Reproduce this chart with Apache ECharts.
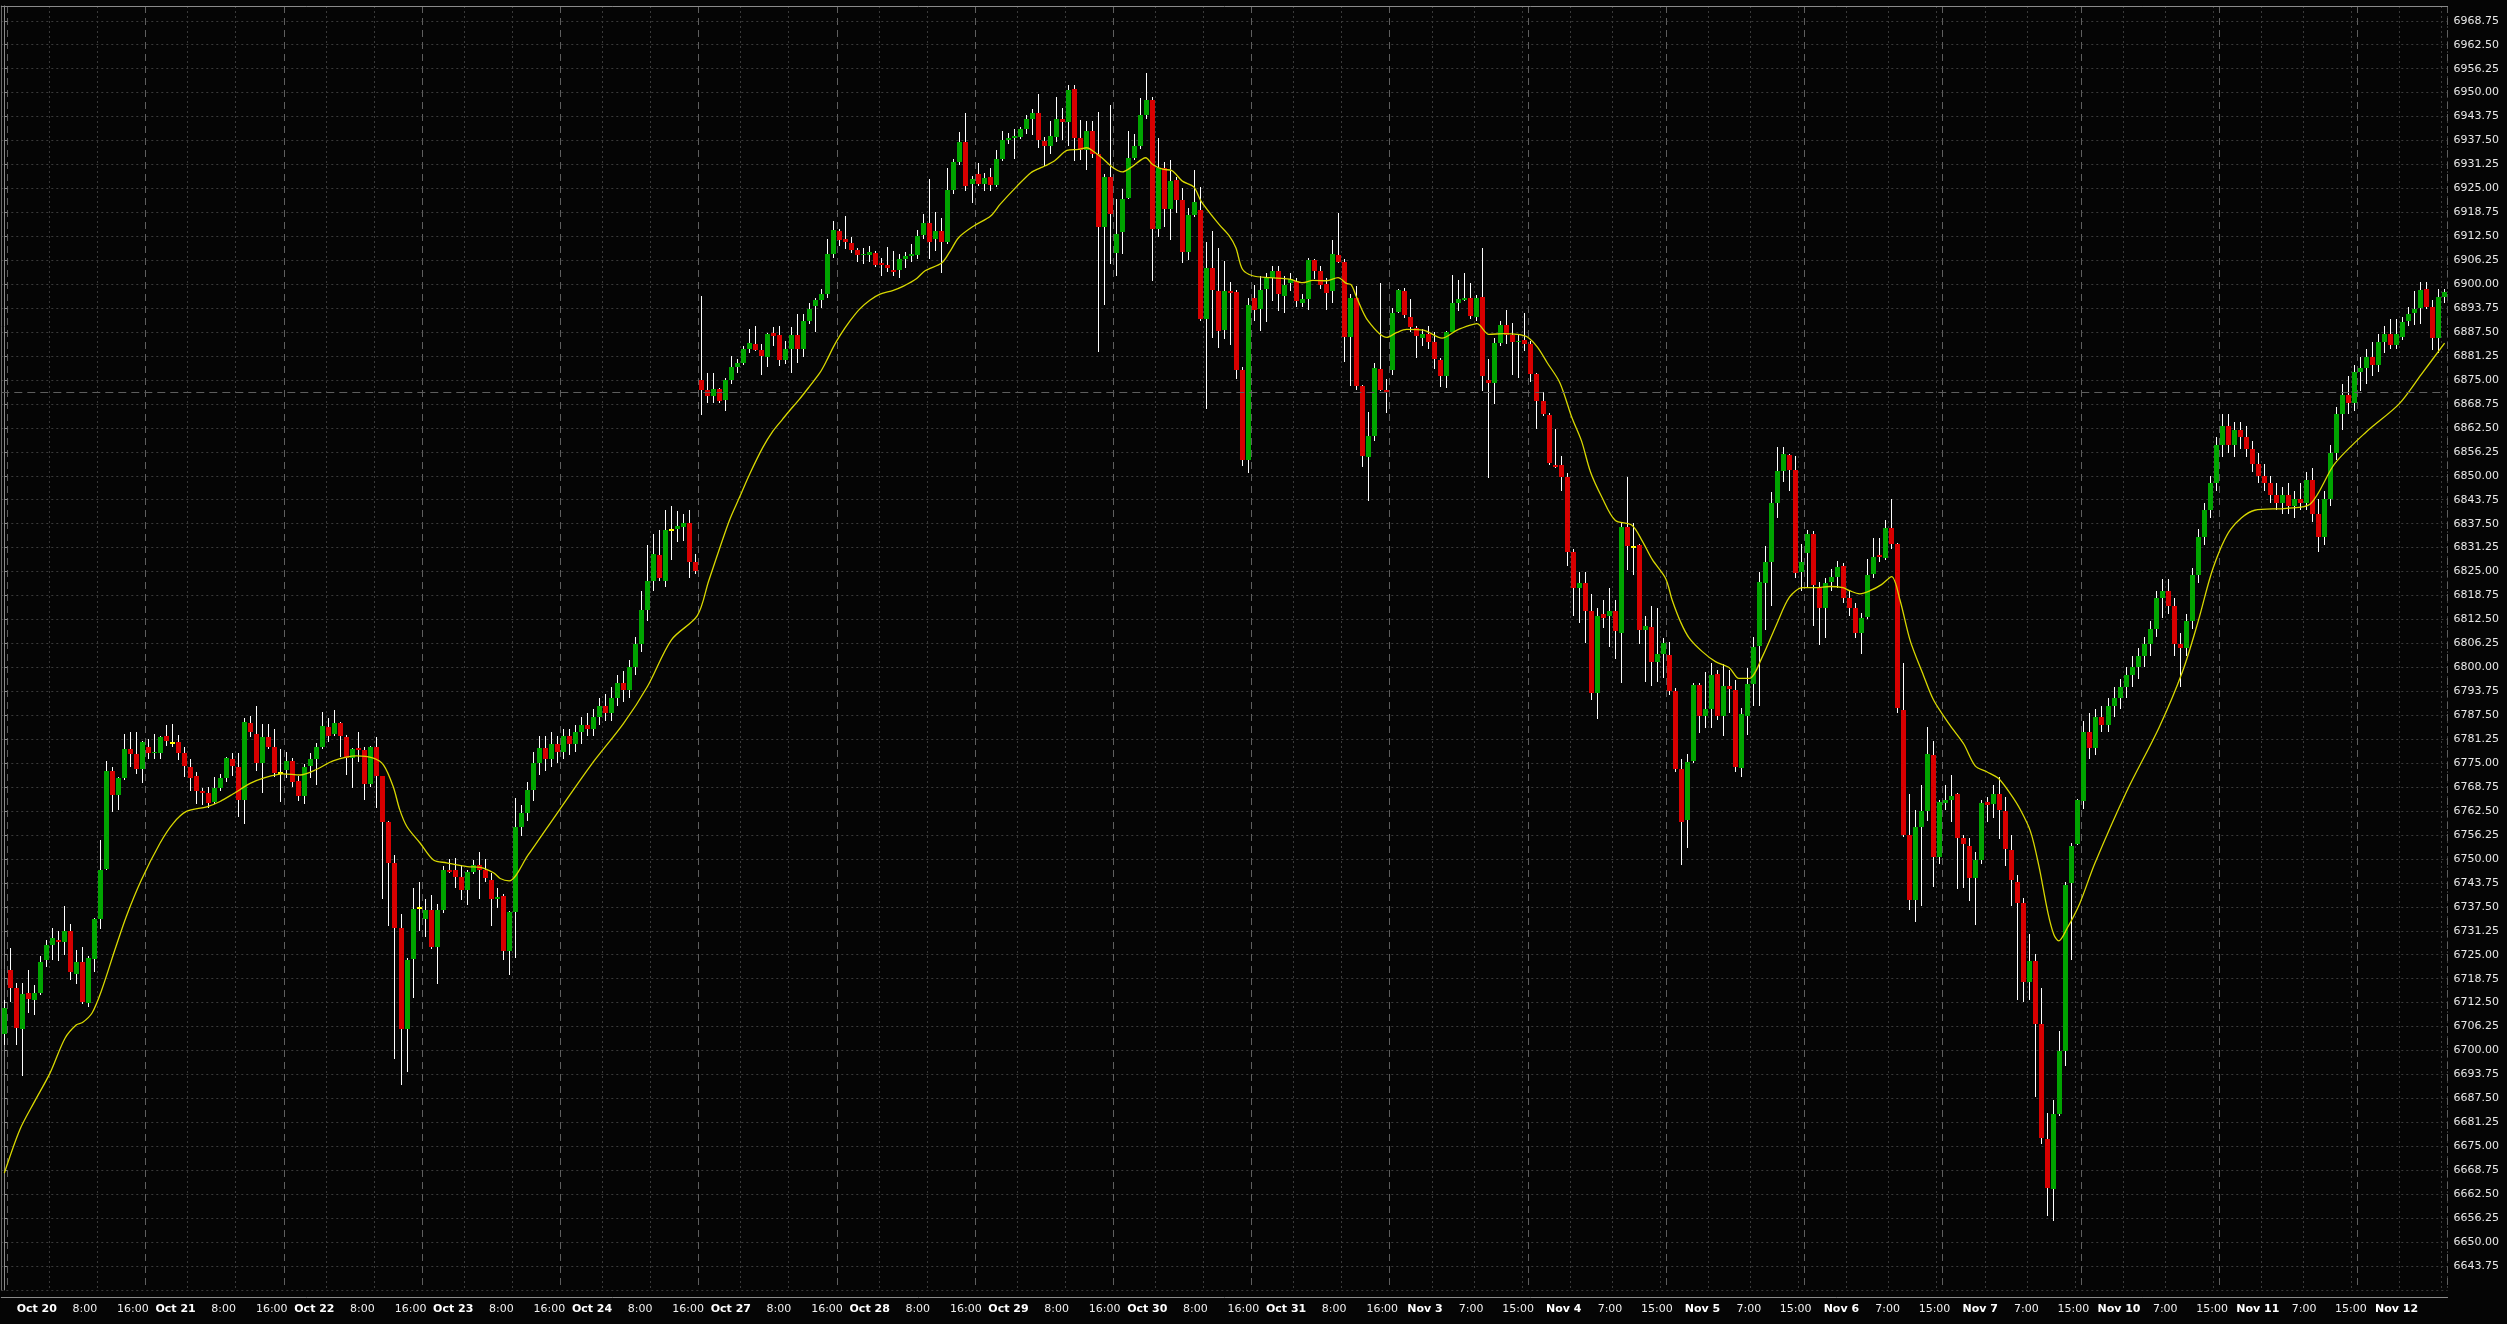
<!DOCTYPE html>
<html>
<head>
<meta charset="utf-8">
<script src="https://cdn.jsdelivr.net/npm/echarts@6/dist/echarts.min.js"></script>
<style>
html,body{margin:0;padding:0;background:#050505;}
#chart{width:2507px;height:1324px;}
</style>
</head>
<body>
<div id="chart"></div>
<script>
// ---------------- DATA (hourly bars) ----------------
const dayNames = ['Oct 20','Oct 21','Oct 22','Oct 23','Oct 24','Oct 27','Oct 28','Oct 29','Oct 30','Oct 31',
                  'Nov 3','Nov 4','Nov 5','Nov 6','Nov 7','Nov 10','Nov 11','Nov 12'];
const hourLabelsOct = ['8:00','16:00'];
const hourLabelsNov = ['7:00','15:00'];
const firstDayBar = 1;      // bar 0 is the last bar of the previous session
const barsPerDay = 23;
const novFirstDay = 10;     // index of 'Nov 3'

const opens = [
6704.3,
6721.0,6716.4,6705.6,6715.0,6713.3,6715.0,6723.5,6727.5,6728.9,6728.3,6731.3,6720.1,6723.0,6712.5,6723.8,6734.3,6747.5,6772.9,6766.7,6771.2,6778.8,6777.3,6773.6,
6779.1,6777.6,6777.7,6782.1,6780.3,6780.6,6777.7,6774.1,6771.7,6767.8,6767.3,6764.8,6768.5,6771.2,6776.1,6774.1,6765.4,6785.6,6782.5,6775.0,6781.9,6779.3,6772.3,
6773.3,6775.6,6770.3,6766.3,6774.3,6776.0,6779.3,6784.4,6782.5,6785.6,6781.9,6776.3,6778.9,6778.3,6769.5,6779.3,6771.6,6759.6,6748.9,6731.9,6705.5,6723.8,6737.1,
6734.3,6736.7,6727.1,6736.8,6747.1,6747.1,6745.4,6741.9,6746.5,6748.4,6747.0,6744.6,6739.5,6740.3,6725.9,6736.2,6758.4,6762,6768,6775,6779,6776,6780,
6778,6782,6780,6783,6785,6784,6787,6790,6788,6792,6796,6794,6800,6806,6815,6822.5,6829.2,6822.6,6835.9,6836.0,6836.6,6837.8,6827.5,
6875.0,6872.4,6870.9,6872.6,6869.9,6875.0,6878.4,6879.4,6883.1,6884.3,6882.8,6881.1,6887.3,6886.8,6880.1,6883.1,6886.8,6883.2,6890.3,6894.2,6895.8,6897.5,6907.9,
6913.9,6911.7,6910.8,6908.9,6907.5,6907.7,6908.2,6905.4,6905.0,6903.7,6903.7,6906.6,6907.3,6907.7,6912.9,6915.9,6911.9,6913.9,6910.9,6924.5,6931.8,6937.1,6926.1,
6928.7,6926.1,6928.0,6926.0,6932.6,6937.7,6938.2,6938.4,6940.5,6943.1,6944.8,6937.4,6936.1,6938.4,6943.0,6942.2,6950.9,6938.2,6935.0,6940.0,6933.9,6914.8,6928.0,
6908.2,6913.5,6922.5,6932.9,6936.1,6944.2,6948.1,6914.5,6930.2,6919.7,6927.2,6921.9,6908.4,6918.1,6919.4,6891.0,6904.2,6898.2,6888.1,6898.2,6898.0,6877.6,6854.2,
6896.3,6893.6,6898.8,6901.5,6903.5,6896.8,6900.2,6900.7,6895.2,6896.1,6906.2,6903.5,6900.1,6898.1,6907.6,6905.8,6886.3,6896.3,6873.4,6855.0,6860.4,6877.9,6872.4,
6877.6,6892.8,6898.2,6891.5,6888.5,6886.0,6887.0,6884.8,6880.2,6876.1,6887.6,6895.2,6895.8,6896.3,6891.5,6896.7,6875.0,6874.3,6884.7,6889.4,6886.8,6884.8,6885.4,
6884.3,6876.5,6869.5,6865.9,6852.8,6852.9,6849.7,6830.1,6820.8,6821.9,6814.6,6793.4,6813.8,6813.3,6814.6,6809.0,6836.6,6831.4,6831.9,6809.7,6810.5,6801.5,6803.6,
6803.2,6793.7,6773.6,6760.1,6775.6,6795.5,6787.3,6789.0,6798.3,6787.2,6795.2,6794.0,6773.8,6787.3,6795.7,6805.6,6822.1,6827.6,6842.8,6851.3,6855.4,6851.5,6824.9,
6829.8,6834.7,6820.8,6815.6,6822.4,6823.6,6826.5,6818.0,6815.4,6808.9,6813.1,6824.4,6829.3,6828.6,6836.3,6832.2,6788.8,6756.3,6739.2,6758.4,6762.4,6777.0,6750.6,
6764.5,6765.3,6766.9,6755.5,6753.5,6744.9,6749.8,6764.8,6764.3,6766.9,6762.4,6752.3,6744.1,6738.4,6718.0,6723.4,6707.0,6676.8,6663.8,6683.4,6700.0,6743.6,6753.9,
6765,6783,6779,6787,6785,6790,6792,6795,6798,6800,6803,6806,6810,6818,6820,6816,6806,6805,6812,6824,6834,6841,6848,
6858,6863,6858,6862,6860,6857,6853,6850,6848,6845,6843,6845,6842,6844,6843,6849,6840,6834,6844,6856,6866,6871,6869,
6877,6878,6881,6879,6885,6887,6884,6886.1,6890.5,6892.6,6893.7,6898.7,6894.0,6885.9,6896.6
];
const highs = [
6713.3,
6726.8,6717.6,6717.6,6721.0,6717.1,6724.6,6728.9,6731.9,6731.3,6737.6,6732.9,6726.2,6727.0,6724.6,6734.6,6754.9,6775.6,6774.1,6771.3,6782.5,6783.2,6783.2,6780.8,
6781.2,6782.5,6782.1,6784.9,6785.2,6782.4,6779.2,6776.2,6772.6,6768.5,6768.7,6771.5,6772.2,6776.7,6777.6,6777.6,6786.7,6787.3,6790.0,6785.1,6785.1,6783.9,6778.7,
6778.0,6776.3,6771.7,6774.8,6777.6,6780.3,6788.4,6786.7,6788.9,6785.7,6782.4,6778.9,6783.0,6779.3,6779.5,6781.9,6771.7,6759.8,6750.9,6735.6,6724.1,6742.3,6744.1,
6739.6,6740.7,6738.3,6748.1,6750.0,6750.3,6748.4,6747.1,6749.8,6751.8,6750.0,6746.2,6742.5,6740.8,6736.5,6765.9,6764,6770,6778,6782,6782,6783,6782,
6784,6784,6785,6787,6788,6789,6792,6793,6795,6798,6799,6802,6808,6820,6832,6834.9,6835.9,6841.1,6842.0,6840.8,6840.0,6841.1,6829.5,
6896.9,6876.8,6876.8,6873.0,6875.4,6881.3,6880.4,6883.9,6888.2,6889.1,6884.3,6887.3,6888.7,6889.0,6885.2,6888.7,6892.1,6892.1,6895.0,6896.3,6898.7,6911.7,6916.5,
6914.3,6917.8,6912.2,6909.5,6909.5,6910.0,6908.7,6906.9,6909.7,6908.7,6908.0,6908.4,6910.6,6914.1,6918.4,6927.5,6918.9,6917.4,6930.2,6932.6,6939.7,6944.8,6928.3,
6931.6,6929.0,6930.4,6935.0,6940.0,6939.5,6940.4,6940.9,6944.2,6945.6,6949.7,6938.3,6942.6,6948.9,6946.1,6952.0,6952.0,6942.8,6942.6,6942.6,6945.0,6928.7,6946.8,
6922.2,6924.8,6940.0,6939.3,6948.7,6955.1,6948.9,6938.1,6931.9,6932.4,6928.0,6925.2,6920.0,6929.8,6925.4,6910.9,6913.9,6909.4,6906.1,6900.6,6898.5,6878.4,6896.3,
6899.8,6902.1,6902.8,6904.8,6904.8,6902.1,6902.8,6901.5,6897.4,6906.9,6906.5,6904.8,6901.7,6911.5,6918.7,6906.5,6897.4,6899.5,6873.6,6866.7,6879.5,6900.2,6875.2,
6893.9,6898.8,6899.1,6896.2,6889.0,6888.2,6889.1,6887.4,6880.8,6887.8,6902.4,6901.1,6902.9,6900.2,6897.1,6909.4,6880.4,6886.0,6890.4,6893.3,6889.9,6886.9,6892.4,
6885.2,6876.8,6871.9,6866.5,6862.1,6855.1,6850.6,6830.9,6824.9,6824.9,6819.2,6815.6,6817.5,6820.8,6817.5,6837.9,6849.7,6837.6,6832.2,6813.4,6815.9,6815.4,6807.7,
6806.6,6794.7,6776.2,6777.5,6795.8,6796.0,6798.8,6801.2,6799.2,6800.9,6799.2,6796.6,6789.3,6799.9,6808.0,6824.9,6831.7,6845.7,6857.5,6857.5,6855.7,6855.1,6832.2,
6835.8,6835.5,6822.4,6823.2,6825.7,6827.8,6827.3,6820.0,6816.7,6814.2,6828.4,6833.8,6833.8,6838.4,6843.9,6832.5,6801.2,6766.9,6762.8,6769.4,6784.4,6780.8,6765.3,
6769.4,6771.8,6767.3,6756.3,6755.5,6751.9,6765.3,6766.1,6769.4,6771.3,6766.1,6756.3,6745.7,6739.7,6730.5,6725.3,6716.3,6683.7,6687.0,6705.2,6744.1,6754.2,6765.6,
6786,6788,6789,6790,6792,6795,6797,6800,6803,6805,6808,6812,6820,6823,6823,6818,6809,6814,6826,6836,6843,6850,6860,
6866,6866,6864,6864,6863,6859,6856,6853,6850,6848,6847,6848,6846,6848,6851,6852,6844,6846,6858,6868,6874,6876,6879,
6881,6883,6885,6887,6889,6891,6891,6891.5,6894.0,6898.2,6900.6,6900.6,6895.9,6898.7,6898.7
];
const lows = [
6701.4,
6712.7,6701.4,6693.4,6709.9,6709.3,6714.6,6721.9,6723.5,6723.3,6724.8,6718.3,6717.4,6712.2,6711.3,6720.6,6731.6,6747.1,6762.2,6762.7,6770.5,6774.1,6772.2,6769.7,
6776.0,6776.0,6776.0,6779.4,6779.2,6775.9,6771.3,6767.8,6764.4,6764.1,6763.3,6764.4,6767.6,6770.0,6771.6,6760.9,6759.1,6781.9,6773.0,6767.1,6778.7,6771.4,6764.8,
6771.1,6768.9,6765.1,6764.4,6771.2,6769.3,6778.7,6780.4,6782.1,6776.7,6771.9,6768.5,6775.4,6765.4,6768.9,6763.3,6739.6,6732.4,6697.9,6690.9,6694.3,6713.6,6731.1,
6729.5,6726.5,6717.4,6736.0,6746.3,6742.3,6739.4,6737.9,6746.1,6739.5,6744.1,6732.6,6737.1,6723.5,6719.7,6724.1,6756,6760,6765,6772,6773,6774,6775,
6776,6777,6778,6780,6782,6782,6785,6786,6786,6790,6791,6792,6798,6804,6812,6820,6822.6,6821.0,6828.0,6832.6,6833.0,6823.4,6824.3,
6865.8,6869.1,6869.1,6869.1,6867.0,6874.0,6876.7,6878.9,6882.1,6882.5,6876.4,6878.4,6883.9,6878.6,6879.1,6876.8,6879.5,6881.1,6889.7,6887.6,6893.7,6896.3,6906.9,
6910.0,6909.1,6908.2,6905.9,6905.2,6905.9,6904.5,6902.2,6903.3,6902.2,6901.5,6904.3,6905.9,6906.7,6911.7,6906.7,6908.7,6903.0,6910.6,6923.6,6931.0,6924.2,6921.3,
6925.6,6924.2,6924.3,6925.4,6932.2,6936.5,6932.8,6938.0,6939.3,6939.0,6935.6,6930.9,6934.1,6937.0,6937.6,6936.1,6932.2,6932.4,6929.9,6933.0,6882.4,6894.6,6905.2,
6902.2,6908.0,6922.2,6932.5,6935.2,6943.0,6900.7,6912.2,6914.8,6911.6,6918.7,6905.4,6906.3,6917.5,6890.4,6867.5,6885.9,6883.3,6885.7,6884.1,6875.2,6852.5,6850.7,
6890.5,6887.8,6890.0,6895.5,6893.0,6892.4,6898.2,6894.1,6894.1,6893.3,6901.3,6898.7,6893.3,6895.2,6905.5,6879.7,6873.4,6872.5,6852.4,6843.3,6859.1,6872.1,6866.5,
6876.2,6892.6,6891.3,6887.6,6880.8,6883.9,6883.0,6877.8,6873.2,6873.0,6887.4,6893.0,6895.5,6890.9,6890.4,6872.1,6849.3,6868.7,6883.9,6884.3,6876.3,6875.4,6882.6,
6874.6,6862.1,6865.6,6852.8,6852.0,6846.1,6826.5,6813.5,6811.5,6806.4,6791.4,6786.5,6810.2,6805.3,6802.3,6795.8,6825.3,6824.0,6806.1,6796.3,6795.2,6796.3,6797.1,
6792.7,6772.6,6748.5,6752.9,6775.1,6782.9,6784.1,6784.1,6786.2,6782.1,6788.1,6772.6,6771.5,6782.4,6789.8,6789.8,6809.7,6815.9,6839.1,6848.5,6846.1,6823.2,6820.0,
6821.1,6810.7,6805.8,6807.7,6820.0,6820.8,6816.7,6813.4,6807.7,6803.6,6812.6,6823.2,6827.6,6828.1,6830.9,6788.0,6755.8,6736.7,6733.5,6737.6,6759.9,6742.8,6748.6,
6762.8,6759.6,6742.1,6742.4,6738.9,6732.7,6748.6,6759.6,6760.7,6755.2,6748.2,6737.6,6713.1,6712.6,6713.1,6687.8,6675.5,6656.8,6655.6,6682.9,6696.0,6723.7,6753.6,
6763,6776,6777,6783,6783,6787,6789,6792,6795,6797,6800,6803,6808,6813,6814,6803,6795,6803,6810,6822,6832,6839,6846,
6855,6856,6855,6857,6855,6851,6848,6846,6843,6841,6840,6840,6839,6841,6841,6838,6830,6832,6842,6854,6862,6866,6867,
6872,6874,6876,6877,6882,6883,6883,6885.4,6889.0,6889.3,6889.7,6893.5,6882.8,6882.1,6895.2
];
const closes = [
6711.1,
6716.3,6706.0,6714.7,6713.5,6715.0,6723.2,6727.5,6729.3,6728.3,6731.3,6720.5,6723.0,6712.7,6724.1,6734.3,6747.1,6772.9,6766.7,6771.2,6778.8,6777.3,6773.4,6780.4,
6777.6,6778.0,6781.9,6780.9,6780.3,6777.7,6774.3,6771.2,6767.8,6767.3,6764.7,6768.5,6771.2,6776.4,6774.2,6765.4,6785.8,6783.0,6775.0,6781.9,6779.3,6772.3,6772.3,
6775.6,6770.0,6766.3,6774.1,6776.0,6779.3,6784.6,6782.2,6785.6,6782.2,6776.3,6778.7,6778.3,6769.5,6779.3,6771.7,6759.6,6748.9,6731.9,6705.5,6723.5,6737.0,6737.1,
6736.7,6727.1,6736.7,6747.1,6746.7,6745.4,6741.9,6746.5,6748.4,6747.0,6745.1,6739.5,6740.1,6725.9,6736.2,6758.4,6762,6768,6775,6779,6776,6780,6778,
6782,6780,6783,6785,6784,6787,6790,6788,6792,6796,6794,6800,6806,6815,6822.5,6829.5,6823.4,6835.9,6835.9,6836.8,6837.8,6827.6,6825.2,
6872.4,6870.9,6872.6,6869.6,6875.0,6878.4,6879.4,6883.1,6884.6,6882.9,6881.3,6886.9,6886.6,6880.3,6883.1,6886.8,6883.1,6890.4,6893.5,6895.9,6897.5,6907.9,6914.2,
6911.6,6911.0,6908.9,6907.5,6907.9,6908.4,6905.1,6905.0,6904.2,6903.3,6906.5,6907.4,6907.9,6912.6,6915.9,6911.1,6913.9,6911.0,6924.6,6931.9,6937.1,6925.6,6927.5,
6926.1,6927.6,6926.0,6932.6,6937.6,6938.2,6938.7,6940.5,6943.1,6944.8,6937.6,6936.1,6938.7,6943.0,6942.2,6950.7,6938.2,6935.0,6940.0,6933.9,6915.0,6928.0,6918.4,
6913.0,6922.2,6932.9,6936.1,6944.2,6948.1,6914.5,6930.2,6919.7,6926.9,6922.0,6908.4,6918.1,6921.5,6891.0,6904.2,6898.4,6887.9,6898.2,6897.8,6877.6,6854.0,6894.6,
6893.3,6898.4,6901.5,6903.5,6897.4,6899.8,6901.3,6895.5,6896.1,6906.2,6903.5,6899.8,6897.8,6907.8,6905.9,6886.3,6896.3,6873.4,6855.2,6860.4,6878.1,6872.4,6871.9,
6892.4,6898.4,6892.0,6888.7,6886.4,6887.0,6884.8,6880.6,6876.1,6887.6,6895.2,6896.1,6896.3,6891.7,6896.3,6876.1,6874.3,6884.7,6889.4,6886.8,6884.9,6885.2,6884.3,
6876.5,6869.5,6866.0,6853.4,6852.3,6849.7,6830.2,6820.8,6821.9,6814.6,6793.4,6813.4,6812.9,6814.6,6809.4,6836.6,6831.7,6831.4,6809.8,6810.7,6801.5,6803.6,6806.4,
6793.7,6773.6,6759.6,6775.4,6795.5,6787.2,6789.0,6797.9,6787.2,6795.2,6794.3,6774.1,6787.7,6795.7,6805.4,6822.4,6827.6,6842.8,6851.3,6855.7,6851.5,6824.5,6827.6,
6834.7,6821.6,6815.6,6822.1,6823.7,6826.3,6818.0,6815.6,6808.9,6812.9,6824.0,6828.9,6828.9,6836.3,6832.2,6789.3,6756.3,6739.2,6758.4,6762.4,6777.4,6750.6,6764.8,
6765.3,6766.3,6755.5,6753.9,6744.9,6749.8,6764.6,6764.2,6766.9,6762.9,6752.6,6744.6,6738.4,6718.0,6723.4,6707.0,6677.2,6664.1,6683.4,6700.0,6743.3,6753.4,6765.3,
6783,6779,6787,6785,6790,6792,6795,6798,6800,6803,6806,6810,6818,6820,6816,6806,6805,6812,6824,6834,6841,6848,6858,
6863,6858,6862,6860,6857,6853,6850,6848,6845,6843,6845,6842,6844,6843,6849,6840,6834,6844,6856,6866,6871,6869,6877,
6878,6881,6879,6885,6887,6884,6887,6890.2,6892.2,6893.4,6898.5,6894.0,6885.9,6896.6,6897.9
];
// moving-average line, points: bar position and value
const maBar = [0,2.6,5.0,7.6,10.1,12,13,14.6,16.2,18.4,20.3,22.8,25.9,28.1,30.3,33.7,35.9,38.1,40.9,43.1,46.4,49.2,52,54.7,58.6,61.4,63.1,64.7,65.8,67,69.2,71.4,73.6,77,79.2,81.4,82.5,84,
87.1,92.4,97.7,103,107,111,115.3,
117.2,120.6,122.3,124,126.2,127.9,129.5,130.6,132.3,134,135.7,136.8,137.9,139,140.7,142.3,144,145.7,147.9,149.6,151.8,153.2,156,157.4,158.8,161.3,164.1,165.7,168.5,170.8,172.3,
173.2,174.8,176.8,178.7,180.1,181,182.6,184.3,186,187.6,189.9,191,192.7,194.3,196,197.9,199.1,202.1,203.8,204.9,206,207.7,210.5,213.8,216,217.7,220,221.9,223.3,224.1,225,226.9,230,231.7,233.3,236.1,239.2,241.7,243.9,245,247,249.5,251.7,253.4,255.1,256.7,258.8,
260.8,262.4,263.9,265.8,268,270.8,272.5,274.2,276.4,277.5,278.9,280.3,282.5,284.7,287,288.6,290.3,292.5,294.8,297,299.2,301.4,303.7,305.9,307,308.7,310.4,312.3,314,315.4,317.1,319.3,321,323.7,326,327.9,329.9,331.8,333.8,335.4,337.1,338.5,340,341,341.8,343.2,345.3,
347.8,353.1,358.5,362.4,365,367.5,370.4,374.4,379.7,383.7,387.7,393.0,398.4,402.1,406];
const maValue = [6668,6679.4,6686.6,6694.1,6703.2,6706.7,6707.3,6709.8,6715.8,6726.3,6735,6744.5,6754.1,6759.3,6762.4,6763.6,6765,6767,6769.7,6771.1,6772.2,6771.9,6773.4,6775.6,6776.9,6776.3,6774.5,6768.9,6762.8,6758.4,6754.1,6749.7,6749,6748,6747.8,6746.4,6744.9,6744.3,
6750.9,6762.9,6774.7,6785.3,6795,6807.2,6813.5,
6822.6,6838.2,6844.3,6850.4,6857.4,6861.7,6864.8,6866.9,6870,6873.4,6876.9,6880,6883.5,6886.5,6890.4,6893.5,6895.8,6897.4,6898.4,6899.5,6901.5,6903.5,6905.6,6908.7,6912.2,6915.2,6917.8,6920.9,6925.6,6929.1,6930.3,
6930.9,6932.3,6934.9,6935.2,6935.6,6934.9,6933,6930.6,6929.3,6930.6,6933,6931.3,6930,6929.6,6926.9,6925.4,6921.7,6915.6,6912.6,6909.5,6903.9,6902.2,6901.7,6901.3,6900.4,6901,6900.9,6901.7,6900.2,6899.8,6896.5,6890.4,6886.1,6887.4,6888.2,6888,6885.9,6888,6889.3,6889.7,6886.9,6887.1,6886.9,6886.2,6883.5,6879.5,6874.3,
6865.2,6859.1,6851,6844.4,6838.4,6837.1,6833,6828.1,6823.2,6817.5,6811.8,6807.7,6804.1,6801.5,6799.9,6797.1,6797.1,6802.8,6811,6818.3,6820.8,6820.8,6821.1,6820.8,6820,6819.2,6820,6821.6,6823.7,6817.5,6806.9,6797.9,6791.4,6784.9,6780,6774.3,6772.7,6771,6766.9,6762.9,6757.2,6748.2,6736,6730.2,6728.6,6731.9,6738.4,
6748.8,6767.6,6784.3,6798.9,6812,6826,6836,6841,6841.5,6842.7,6853.1,6861.5,6868.7,6876.4,6884.6];
const priceLine = 6871.75;
const yMin = 6637.5, yMax = 6972.6, yStep = 6.25;

// ---------------- CHART ----------------
const FONT = 'DejaVu Sans';
const N = opens.length;
const barCats = opens.map((_, i) => 'b' + i);
const dayStart = k => firstDayBar + barsPerDay * k;
const dayLineSet = new Set(dayNames.map((_, k) => dayStart(k)));
const hourLineSet = new Set();
dayNames.forEach((d, k) => {
  const s = dayStart(k);
  (k < novFirstDay ? [7, 15] : [7, 14, 22]).forEach(o => { if (s + o < N) hourLineSet.add(s + o); });
});
const labelPos = [], labelText = [];
dayNames.forEach((d, k) => {
  const s = dayStart(k);
  const dPos = s + 4.9 + 0.095 * k - 0.5;
  labelPos.push(dPos); labelText.push('{d|' + d + '}');
  if (k === dayNames.length - 1) return;
  const hrs = k < novFirstDay ? hourLabelsOct : hourLabelsNov;
  const offs = k < novFirstDay ? [8, 16] : [7.7, 15.5];
  hrs.forEach((h, j) => { labelPos.push(dPos + offs[j]); labelText.push('{h|' + h + '}'); });
});

const candleData = opens.map((o, i) => [i, o, closes[i], lows[i], highs[i]]);
const maData = maBar.map((b, j) => [b, maValue[j]]);

const upColor = '#00a400', downColor = '#d80000', dojiColor = '#ffff00', wickColor = '#ffffff';
const frameColor = '#8a8a8a';

function renderCandle(params, api) {
  const i = api.value(0);
  const o = api.value(1), c = api.value(2), l = api.value(3), h = api.value(4);
  const pH = api.coord([i, h]), pL = api.coord([i, l]);
  const pO = api.coord([i, o]), pC = api.coord([i, c]);
  const cx = Math.floor(pH[0]);
  const bodyW = 5;
  const left = cx - 2;
  const yH = Math.round(pH[1]), yL = Math.round(pL[1]);
  const children = [{
    type: 'rect', shape: {x: cx, y: yH, width: 1, height: Math.max(1, yL - yH)},
    style: {fill: wickColor}
  }];
  const top = Math.round(Math.min(pO[1], pC[1])), bot = Math.round(Math.max(pO[1], pC[1]));
  if (Math.abs(o - c) < 0.01) {
    children.push({type: 'rect', shape: {x: left, y: top - 1, width: bodyW, height: 2}, style: {fill: dojiColor}});
  } else {
    children.push({type: 'rect', shape: {x: left, y: top, width: bodyW, height: Math.max(1, bot - top)},
      style: {fill: c > o ? upColor : downColor}});
  }
  return {type: 'group', children};
}

const chart = echarts.init(document.getElementById('chart'));
chart.setOption({
  animation: false,
  backgroundColor: '#050505',
  grid: {left: 1.3, right: 59.4, top: 6, bottom: 34, show: false, containLabel: false},
  xAxis: [
    { type: 'category', data: barCats, position: 'bottom', boundaryGap: true, offset: 7,
      axisLine: {show: true, lineStyle: {color: frameColor}}, axisTick: {show: false}, axisLabel: {show: false},
      splitLine: {show: true, interval: (idx) => hourLineSet.has(idx), lineStyle: {color: '#3a3a3a', type: [2, 3], width: 1}} },
    { type: 'category', data: barCats, position: 'bottom', boundaryGap: true,
      axisLine: {show: false}, axisTick: {show: false}, axisLabel: {show: false},
      splitLine: {show: true, interval: (idx) => dayLineSet.has(idx), lineStyle: {color: '#5e5e5e', type: [7, 5], width: 1}} },
    { type: 'value', position: 'bottom', min: -0.5, max: N - 0.5,
      axisLine: {show: false}, axisTick: {show: false}, splitLine: {show: false},
      axisLabel: { show: true, customValues: labelPos, margin: 14,
        formatter: (v) => { const k = labelPos.findIndex(p => Math.abs(p - v) < 1e-6); return k >= 0 ? labelText[k] : ''; },
        rich: { d: {fontFamily: FONT, fontSize: 11, fontWeight: 'bold', color: '#ffffff'},
                h: {fontFamily: FONT, fontSize: 11, fontWeight: 'normal', color: '#f0f0f0'} } } },
    { type: 'category', data: barCats, position: 'top', boundaryGap: true,
      axisLine: {show: true, lineStyle: {color: frameColor}}, axisTick: {show: false}, axisLabel: {show: false},
      splitLine: {show: false} }
  ],
  yAxis: [
    { type: 'value', position: 'right', min: yMin, max: yMax, interval: yStep,
      axisLine: {show: true, lineStyle: {color: frameColor}},
      axisTick: {show: true, length: 3, lineStyle: {color: frameColor}},
      axisLabel: {color: '#e8e8e8', fontFamily: FONT, fontSize: 11, margin: 6,
        formatter: (v) => v.toFixed(2), showMinLabel: false, showMaxLabel: false},
      splitLine: {show: true, lineStyle: {color: '#3a3a3a', type: [2, 3], width: 1}} },
    { type: 'value', position: 'left', min: yMin, max: yMax, interval: yStep,
      axisLine: {show: true, lineStyle: {color: '#6a6a6a'}}, axisTick: {show: false},
      axisLabel: {show: false}, splitLine: {show: false} }
  ],
  series: [
    { type: 'custom', xAxisIndex: 0, yAxisIndex: 0, data: candleData, renderItem: renderCandle,
      encode: {x: 0, y: [1, 2, 3, 4]}, z: 2, silent: true },
    { type: 'line', xAxisIndex: 2, yAxisIndex: 0, data: maData, showSymbol: false, smooth: 0.3,
      lineStyle: {color: '#d8d800', width: 1.3}, z: 3, silent: true,
      markLine: {silent: true, symbol: 'none', label: {show: false},
        lineStyle: {color: '#5e5e5e', type: [8, 5], width: 1}, data: [{yAxis: priceLine}]} }
  ]
});
</script>
</body>
</html>
